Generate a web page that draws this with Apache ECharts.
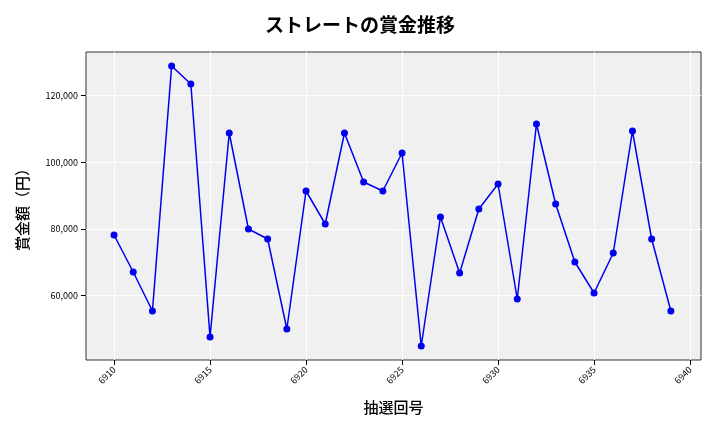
<!DOCTYPE html>
<html><head><meta charset="utf-8">
<script src="https://cdn.jsdelivr.net/npm/echarts@6/dist/echarts.min.js"></script>
<style>html,body{margin:0;padding:0;background:#fff}#c{width:720px;height:432px}</style>
</head><body><div id="c"></div>
<script>
const draws = [6910,6911,6912,6913,6914,6915,6916,6917,6918,6919,6920,6921,6922,6923,6924,6925,6926,6927,6928,6929,6930,6931,6932,6933,6934,6935,6936,6937,6938,6939];
const prizes = [78200,67100,55400,128900,123500,47600,108800,80000,77000,50000,91400,81500,108800,94100,91400,102800,44900,83600,66800,86000,93500,59000,111500,87500,70100,60800,72800,109400,77000,55400];
const xTicks = [6910,6915,6920,6925,6930,6935,6940];
const yTicks = [60000,80000,100000,120000];
const font = '"Noto Sans CJK JP", sans-serif';
const chart = echarts.init(document.getElementById('c'));
chart.setOption({
  animation:false,
  title:{text:'ストレートの賞金推移',left:'center',top:10,textStyle:{fontFamily:font,fontSize:19,fontWeight:'bold',color:'#000'}},
  grid:{left:86,right:19,top:52,bottom:72,backgroundColor:'#f0f0f0',show:true,borderColor:'#000',borderWidth:0.8},
  xAxis:{type:'value',min:6908.54,max:6940.57,
    name:'抽選回号',nameLocation:'middle',nameGap:40,nameTextStyle:{fontFamily:font,fontSize:15,fontWeight:500,color:'#000'},
    axisLine:{show:false},
    axisTick:{show:true,customValues:xTicks,lineStyle:{color:'#000'}},
    axisLabel:{customValues:xTicks,rotate:45,fontSize:9,color:'#000',fontFamily:font,formatter:v=>String(v)},
    splitLine:{show:true,lineStyle:{color:'#fff',width:1}}},
  yAxis:{type:'value',min:40700,max:133100,
    name:'賞金額（円）',nameLocation:'middle',nameGap:56,nameTextStyle:{fontFamily:font,fontSize:15,fontWeight:500,color:'#000'},
    axisLine:{show:false},
    axisTick:{show:true,customValues:yTicks,lineStyle:{color:'#000'}},
    axisLabel:{customValues:yTicks,fontSize:9,color:'#000',fontFamily:font,formatter:v=>v.toLocaleString('en-US')},
    splitLine:{show:true,lineStyle:{color:'#fff',width:1}}},
  series:[{type:'line',data:draws.map((d,i)=>[d,prizes[i]]),symbol:'circle',symbolSize:7,
    lineStyle:{color:'#0000ee',width:1.5},itemStyle:{color:'#0000ee'}}]
});
</script></body></html>
